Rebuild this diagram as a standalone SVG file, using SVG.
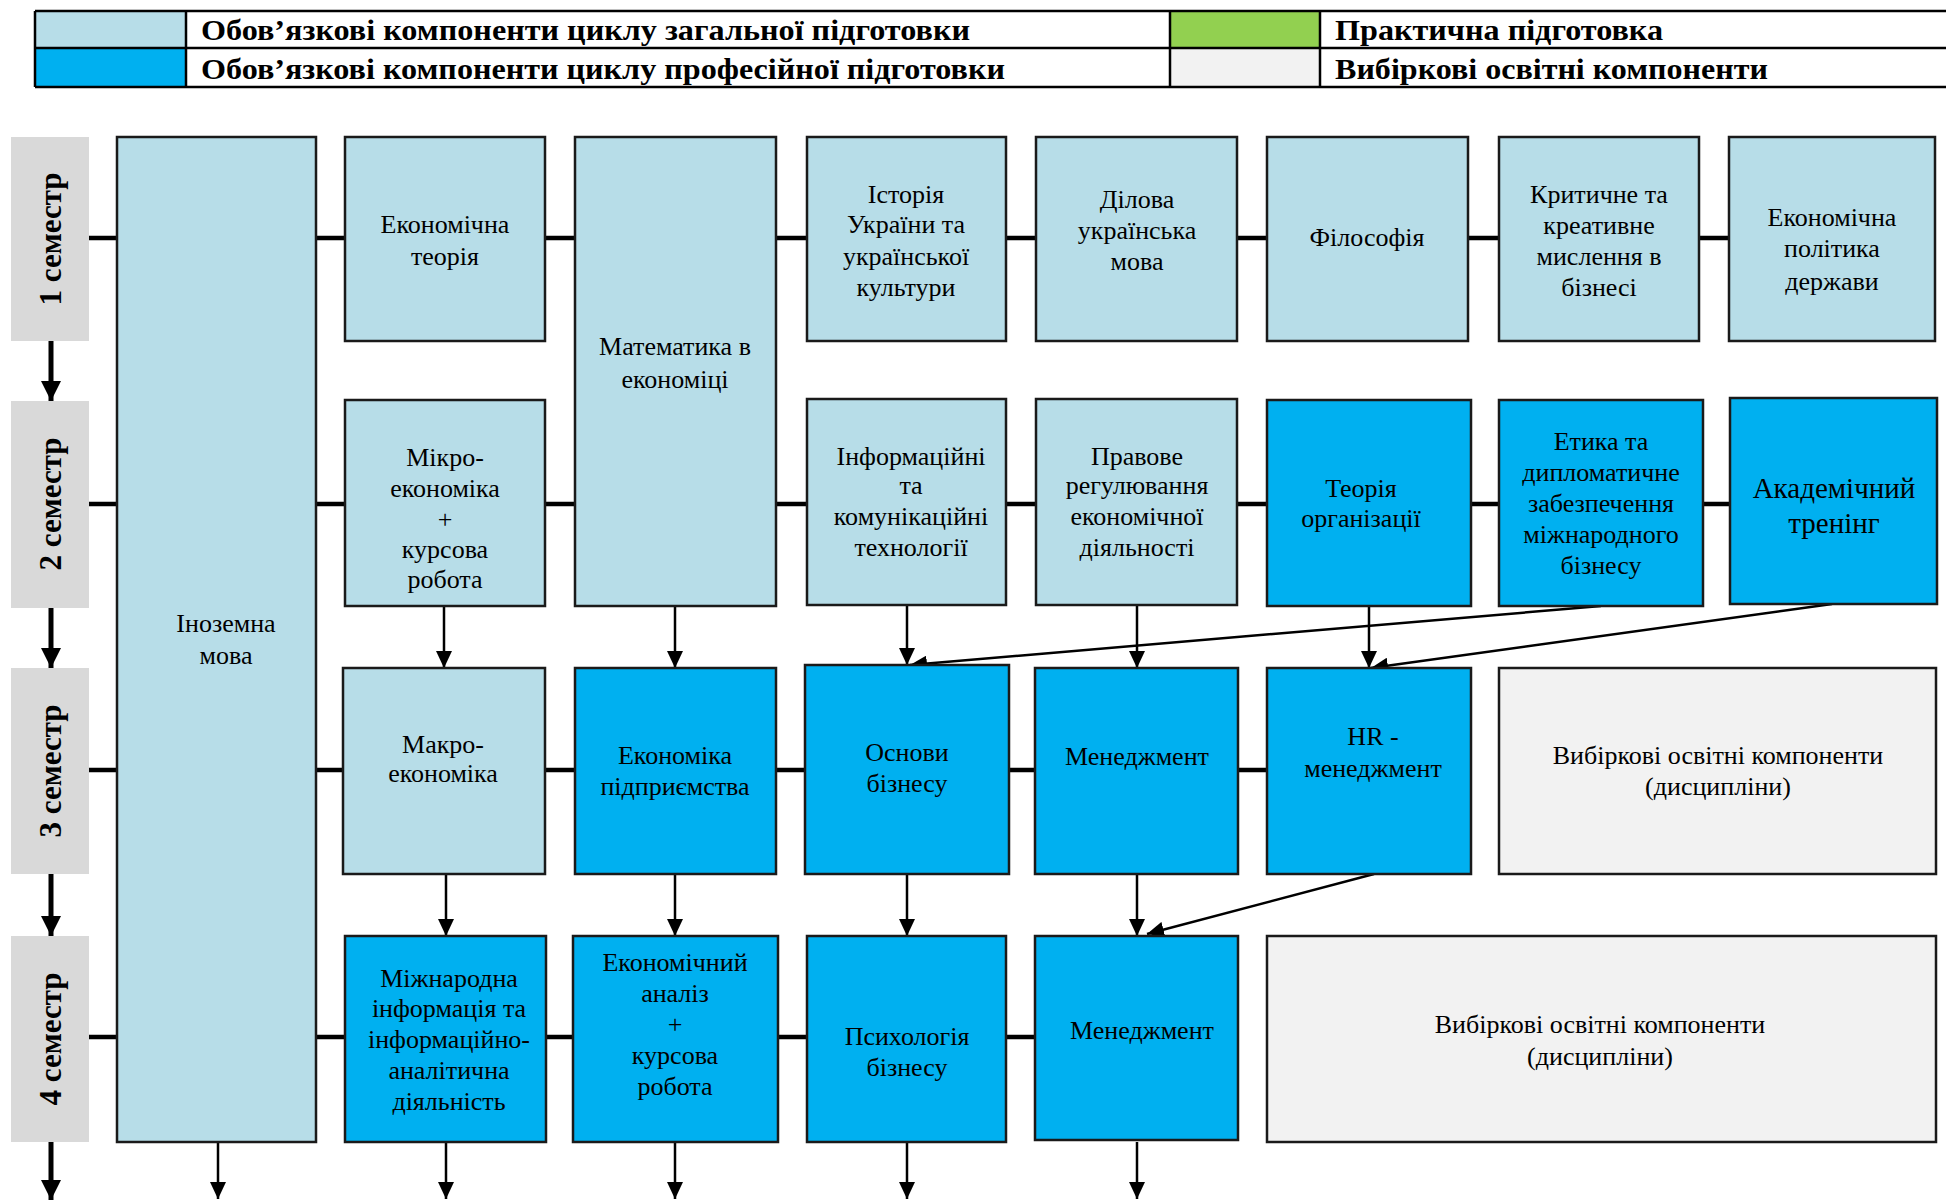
<svg xmlns="http://www.w3.org/2000/svg" width="1946" height="1200" viewBox="0 0 1946 1200">
<defs>
<style>
.lg{fill:#B7DDE8;stroke:#1a1a1a;stroke-width:2.5}
.bb{fill:#00B0F0;stroke:#1a1a1a;stroke-width:2.5}
.gr{fill:#F2F2F2;stroke:#1a1a1a;stroke-width:2.5}
.sem{fill:#D9D9D9}
.t{font-family:"Liberation Serif","Times New Roman",serif;font-size:26px;fill:#000;text-anchor:middle}
.st{font-family:"Liberation Serif","Times New Roman",serif;font-size:31px;font-weight:bold;fill:#000;text-anchor:middle}
.lt{font-family:"Liberation Serif","Times New Roman",serif;font-size:30px;font-weight:bold;fill:#000}
.row{stroke:#000;stroke-width:4.5;fill:none}
.ar{stroke:#000;stroke-width:2.5;fill:none;marker-end:url(#ah)}
.sa{stroke:#000;stroke-width:5;fill:none;marker-end:url(#sh)}
</style>
<marker id="ah" markerUnits="userSpaceOnUse" markerWidth="17" markerHeight="16" refX="17" refY="8" orient="auto"><path d="M0,0 L17,8 L0,16 z" fill="#000"/></marker>
<marker id="sh" markerUnits="userSpaceOnUse" markerWidth="20" markerHeight="20" refX="20" refY="10" orient="auto"><path d="M0,0 L20,10 L0,20 z" fill="#000"/></marker>
</defs>
<rect width="1946" height="1200" fill="#fff"/>

<g id="legend">
<rect x="35" y="11" width="151" height="37" fill="#B7DDE8"/>
<rect x="35" y="48" width="151" height="39" fill="#00B0F0"/>
<rect x="1170" y="11" width="150" height="37" fill="#92D050"/>
<rect x="1170" y="48" width="150" height="39" fill="#F2F2F2"/>
<path d="M35,11 H1946 M35,48 H1946 M35,87 H1946 M35,11 V87 M186,11 V87 M1170,11 V87 M1320,11 V87" stroke="#000" stroke-width="2.5" fill="none"/>
<text class="lt" x="201" y="40" textLength="769" lengthAdjust="spacingAndGlyphs">Обов’язкові компоненти циклу загальної підготовки</text>
<text class="lt" x="201" y="79" textLength="804" lengthAdjust="spacingAndGlyphs">Обов’язкові компоненти циклу професійної підготовки</text>
<text class="lt" x="1335" y="40" textLength="328" lengthAdjust="spacingAndGlyphs">Практична підготовка</text>
<text class="lt" x="1335" y="79" textLength="433" lengthAdjust="spacingAndGlyphs">Вибіркові освітні компоненти</text>
</g>

<g id="connectors">
<path class="row" d="M89,238 H1729 M89,504 H1730 M89,770 H1267 M89,1037 H1035"/>
<path class="sa" d="M51,341 V401"/>
<path class="sa" d="M51,608 V668"/>
<path class="sa" d="M51,874 V936"/>
<path class="sa" d="M51,1142 V1200"/>
<path class="ar" d="M444,606 V668"/>
<path class="ar" d="M675,606 V668"/>
<path class="ar" d="M907,606 V665"/>
<path class="ar" d="M1137,606 V668"/>
<path class="ar" d="M1369,606 V668"/>
<path class="ar" d="M1601,606 L910,665"/>
<path class="ar" d="M1832,604 L1371,668"/>
<path class="ar" d="M446,874 V936"/>
<path class="ar" d="M675,874 V936"/>
<path class="ar" d="M907,874 V936"/>
<path class="ar" d="M1137,874 V936"/>
<path class="ar" d="M1374,874 L1147,934"/>
<path class="ar" d="M218,1142 V1199"/>
<path class="ar" d="M446,1142 V1199"/>
<path class="ar" d="M675,1142 V1199"/>
<path class="ar" d="M907,1142 V1199"/>
<path class="ar" d="M1137,1142 V1199"/>
</g>

<g id="sem1"><rect class="sem" x="11" y="137" width="78" height="204"/><text class="st" transform="translate(50,239) rotate(-90)" y="11">1 семестр</text></g>
<g id="sem2"><rect class="sem" x="11" y="401" width="78" height="207"/><text class="st" transform="translate(50,504) rotate(-90)" y="11">2 семестр</text></g>
<g id="sem3"><rect class="sem" x="11" y="668" width="78" height="206"/><text class="st" transform="translate(50,771) rotate(-90)" y="11">3 семестр</text></g>
<g id="sem4"><rect class="sem" x="11" y="936" width="78" height="206"/><text class="st" transform="translate(50,1039) rotate(-90)" y="11">4 семестр</text></g>

<g id="inozemna"><rect class="lg" x="117" y="137" width="199" height="1005"/><text class="t" x="226" y="632">Іноземна</text><text class="t" x="226" y="664">мова</text></g>

<g id="ek-teoriya"><rect class="lg" x="345" y="137" width="200" height="204"/><text class="t" x="445" y="233">Економічна</text><text class="t" x="445" y="265">теорія</text></g>
<g id="matematyka"><rect class="lg" x="575" y="137" width="201" height="469"/><text class="t" x="675" y="355">Математика в</text><text class="t" x="675" y="388">економіці</text></g>
<g id="istoriya"><rect class="lg" x="807" y="137" width="199" height="204"/><text class="t" x="906" y="203">Історія</text><text class="t" x="906" y="233">України та</text><text class="t" x="906" y="265">української</text><text class="t" x="906" y="296">культури</text></g>
<g id="dilova"><rect class="lg" x="1036" y="137" width="201" height="204"/><text class="t" x="1137" y="208">Ділова</text><text class="t" x="1137" y="239">українська</text><text class="t" x="1137" y="270">мова</text></g>
<g id="filosofiya"><rect class="lg" x="1267" y="137" width="201" height="204"/><text class="t" x="1367" y="246">Філософія</text></g>
<g id="krytychne"><rect class="lg" x="1499" y="137" width="200" height="204"/><text class="t" x="1599" y="203">Критичне та</text><text class="t" x="1599" y="234">креативне</text><text class="t" x="1599" y="265">мислення в</text><text class="t" x="1599" y="296">бізнесі</text></g>
<g id="ek-polityka"><rect class="lg" x="1729" y="137" width="206" height="204"/><text class="t" x="1832" y="226">Економічна</text><text class="t" x="1832" y="257">політика</text><text class="t" x="1832" y="290">держави</text></g>

<g id="mikro"><rect class="lg" x="345" y="400" width="200" height="206"/><text class="t" x="445" y="466">Мікро-</text><text class="t" x="445" y="497">економіка</text><text class="t" x="445" y="528">+</text><text class="t" x="445" y="558">курсова</text><text class="t" x="445" y="588">робота</text></g>
<g id="ikt"><rect class="lg" x="807" y="399" width="199" height="206"/><text class="t" x="911" y="465">Інформаційні</text><text class="t" x="911" y="494">та</text><text class="t" x="911" y="525">комунікаційні</text><text class="t" x="911" y="556">технології</text></g>
<g id="pravove"><rect class="lg" x="1036" y="399" width="201" height="206"/><text class="t" x="1137" y="465">Правове</text><text class="t" x="1137" y="494">регулювання</text><text class="t" x="1137" y="525">економічної</text><text class="t" x="1137" y="556">діяльності</text></g>
<g id="teoriya-org"><rect class="bb" x="1267" y="400" width="204" height="206"/><text class="t" x="1361" y="497">Теорія</text><text class="t" x="1361" y="527">організації</text></g>
<g id="etyka"><rect class="bb" x="1499" y="400" width="204" height="206"/><text class="t" x="1601" y="450">Етика та</text><text class="t" x="1601" y="481">дипломатичне</text><text class="t" x="1601" y="512">забезпечення</text><text class="t" x="1601" y="543">міжнародного</text><text class="t" x="1601" y="574">бізнесу</text></g>
<g id="akademichnyi"><rect class="bb" x="1730" y="398" width="207" height="206"/><text class="t" x="1834" y="498" style="font-size:29px">Академічний</text><text class="t" x="1834" y="533" style="font-size:29px">тренінг</text></g>

<g id="makro"><rect class="lg" x="343" y="668" width="202" height="206"/><text class="t" x="443" y="753">Макро-</text><text class="t" x="443" y="782">економіка</text></g>
<g id="ek-pidpr"><rect class="bb" x="575" y="668" width="201" height="206"/><text class="t" x="675" y="764">Економіка</text><text class="t" x="675" y="795">підприємства</text></g>
<g id="osnovy"><rect class="bb" x="805" y="665" width="204" height="209"/><text class="t" x="907" y="761">Основи</text><text class="t" x="907" y="792">бізнесу</text></g>
<g id="menedzhment3"><rect class="bb" x="1035" y="668" width="203" height="206"/><text class="t" x="1137" y="765">Менеджмент</text></g>
<g id="hr"><rect class="bb" x="1267" y="668" width="204" height="206"/><text class="t" x="1373" y="745">HR -</text><text class="t" x="1373" y="777">менеджмент</text></g>
<g id="vybirkovi3"><rect class="gr" x="1499" y="668" width="437" height="206"/><text class="t" x="1718" y="764">Вибіркові освітні компоненти</text><text class="t" x="1718" y="795">(дисципліни)</text></g>

<g id="mizhnarodna"><rect class="bb" x="345" y="936" width="201" height="206"/><text class="t" x="449" y="987">Міжнародна</text><text class="t" x="449" y="1017">інформація та</text><text class="t" x="449" y="1048">інформаційно-</text><text class="t" x="449" y="1079">аналітична</text><text class="t" x="449" y="1110">діяльність</text></g>
<g id="ek-analiz"><rect class="bb" x="573" y="936" width="205" height="206"/><text class="t" x="675" y="971">Економічний</text><text class="t" x="675" y="1002">аналіз</text><text class="t" x="675" y="1033">+</text><text class="t" x="675" y="1064">курсова</text><text class="t" x="675" y="1095">робота</text></g>
<g id="psykholohiya"><rect class="bb" x="807" y="936" width="199" height="206"/><text class="t" x="907" y="1045">Психологія</text><text class="t" x="907" y="1076">бізнесу</text></g>
<g id="menedzhment4"><rect class="bb" x="1035" y="936" width="203" height="204"/><text class="t" x="1142" y="1039">Менеджмент</text></g>
<g id="vybirkovi4"><rect class="gr" x="1267" y="936" width="669" height="206"/><text class="t" x="1600" y="1033">Вибіркові освітні компоненти</text><text class="t" x="1600" y="1065">(дисципліни)</text></g>
</svg>
